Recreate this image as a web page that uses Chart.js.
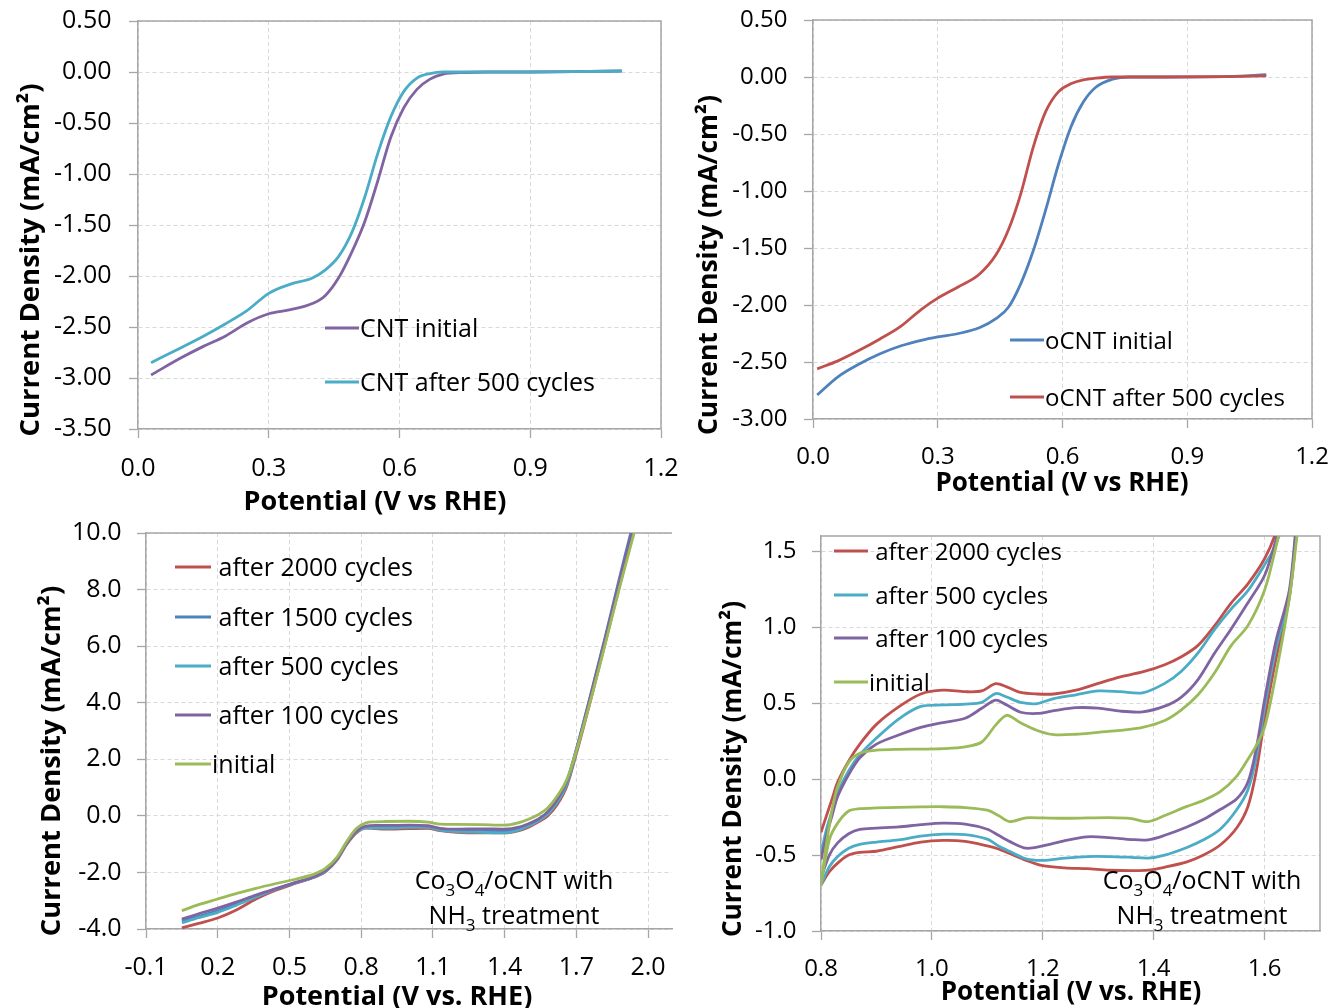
<!DOCTYPE html>
<html>
<head>
<meta charset="utf-8">
<title>Current density vs potential</title>
<script src="https://cdn.jsdelivr.net/npm/chart.js@4.4.1/dist/chart.umd.min.js"></script>
<style>
  body { margin: 0; background: #fff; }
  #wrap { position: relative; width: 1331px; height: 1008px; overflow: hidden; background: #fff; }
  #wrap canvas { position: absolute; left: 0; top: 0; }
</style>
</head>
<body>
<div id="wrap">
  <canvas id="cntChart" width="1331" height="1008"></canvas>
  <canvas id="ocntChart" width="1331" height="1008"></canvas>
  <canvas id="lsvChart" width="1331" height="1008"></canvas>
  <canvas id="cvChart" width="1331" height="1008"></canvas>
</div>
<script>
// ---- CNT, before / after 500 cycles ----
const cntPotential = [0.03, 0.1, 0.15, 0.2, 0.25, 0.3, 0.35, 0.4, 0.43, 0.46, 0.49, 0.52, 0.55, 0.58, 0.61, 0.64, 0.67, 0.7, 0.75, 0.8, 0.9, 1.0, 1.11];
const cntInitial   = [-2.97, -2.80, -2.69, -2.59, -2.46, -2.37, -2.33, -2.27, -2.19, -2.02, -1.77, -1.47, -1.07, -0.64, -0.35, -0.17, -0.07, -0.02, -0.005, 0, 0, 0.003, 0.01];
const cntAfter500  = [-2.85, -2.70, -2.59, -2.47, -2.34, -2.17, -2.08, -2.02, -1.94, -1.81, -1.58, -1.23, -0.80, -0.44, -0.19, -0.06, -0.015, 0, 0, 0, 0, 0.003, 0.01];
const cntXTicks = ['0.0', '0.3', '0.6', '0.9', '1.2'];
const cntYTicks = ['-3.50', '-3.00', '-2.50', '-2.00', '-1.50', '-1.00', '-0.50', '0.00', '0.50'];

// ---- oCNT, before / after 500 cycles ----
const ocntPotential = [0.01, 0.06, 0.11, 0.16, 0.21, 0.26, 0.3, 0.35, 0.4, 0.44, 0.47, 0.5, 0.53, 0.56, 0.59, 0.62, 0.65, 0.68, 0.72, 0.76, 0.85, 1.0, 1.09];
const ocntInitial   = [-2.79, -2.63, -2.52, -2.43, -2.36, -2.31, -2.28, -2.25, -2.20, -2.12, -2.02, -1.81, -1.52, -1.16, -0.77, -0.44, -0.22, -0.09, -0.02, 0, 0, 0.005, 0.02];
const ocntAfter500  = [-2.56, -2.49, -2.40, -2.30, -2.19, -2.04, -1.94, -1.84, -1.73, -1.56, -1.34, -1.02, -0.61, -0.30, -0.13, -0.06, -0.025, -0.01, 0, 0, 0, 0.003, 0.01];
const ocntXTicks = ['0.0', '0.3', '0.6', '0.9', '1.2'];
const ocntYTicks = ['-3.00', '-2.50', '-2.00', '-1.50', '-1.00', '-0.50', '0.00', '0.50'];

// ---- Co3O4/oCNT (NH3) polarization over cycling ----
const lsvPotential = [0.05, 0.12, 0.2, 0.28, 0.36, 0.44, 0.52, 0.6, 0.65, 0.7, 0.74, 0.78, 0.82, 0.86, 0.9, 1.0, 1.08, 1.13, 1.2, 1.3, 1.4, 1.46, 1.5, 1.54, 1.58, 1.62, 1.66, 1.7, 1.76, 1.82, 1.88, 1.94, 1.98];
const lsv2000 = [-3.96, -3.80, -3.61, -3.32, -2.94, -2.64, -2.40, -2.18, -1.98, -1.55, -1.00, -0.60, -0.43, -0.45, -0.47, -0.45, -0.44, -0.52, -0.58, -0.60, -0.60, -0.52, -0.40, -0.22, 0.0, 0.40, 1.05, 2.20, 4.10, 6.10, 8.10, 10.1, 11.4];
const lsv1500 = [-3.70, -3.55, -3.36, -3.12, -2.86, -2.60, -2.38, -2.17, -1.95, -1.50, -0.95, -0.56, -0.40, -0.40, -0.40, -0.38, -0.39, -0.47, -0.52, -0.54, -0.55, -0.45, -0.32, -0.15, 0.12, 0.55, 1.20, 2.35, 4.30, 6.30, 8.40, 10.4, 11.6];
const lsv500  = [-3.78, -3.60, -3.41, -3.15, -2.87, -2.60, -2.38, -2.17, -1.96, -1.52, -0.97, -0.58, -0.42, -0.43, -0.43, -0.41, -0.41, -0.50, -0.56, -0.58, -0.60, -0.50, -0.36, -0.18, 0.06, 0.48, 1.12, 2.28, 4.20, 6.20, 8.25, 10.2, 11.5];
const lsv100  = [-3.65, -3.46, -3.26, -3.04, -2.80, -2.58, -2.37, -2.16, -1.94, -1.50, -0.96, -0.55, -0.36, -0.34, -0.34, -0.33, -0.35, -0.44, -0.47, -0.46, -0.47, -0.40, -0.28, -0.12, 0.14, 0.58, 1.22, 2.35, 4.25, 6.25, 8.30, 10.3, 11.5];
const lsvInit = [-3.35, -3.14, -2.94, -2.74, -2.56, -2.40, -2.25, -2.07, -1.86, -1.45, -0.90, -0.45, -0.25, -0.21, -0.20, -0.19, -0.22, -0.29, -0.30, -0.31, -0.33, -0.24, -0.12, 0.04, 0.28, 0.70, 1.28, 2.30, 4.10, 6.05, 8.05, 9.95, 11.2];
const lsvXTicks = ['-0.1', '0.2', '0.5', '0.8', '1.1', '1.4', '1.7', '2.0'];
const lsvYTicks = ['-4.0', '-2.0', '0.0', '2.0', '4.0', '6.0', '8.0', '10.0'];

// ---- Co3O4/oCNT (NH3) cyclic voltammograms: forward then reverse sweep ----
const cvForward = [0.8, 0.81, 0.82, 0.83, 0.85, 0.87, 0.9, 0.94, 0.98, 1.02, 1.06, 1.09, 1.115, 1.135, 1.16, 1.19, 1.22, 1.26, 1.3, 1.34, 1.38, 1.42, 1.45, 1.48, 1.51, 1.54, 1.57, 1.6, 1.62, 1.65];
const cvReverse = [1.69, 1.66, 1.645, 1.62, 1.6, 1.585, 1.57, 1.55, 1.52, 1.49, 1.46, 1.42, 1.39, 1.36, 1.32, 1.28, 1.24, 1.2, 1.17, 1.14, 1.12, 1.1, 1.06, 1.02, 0.98, 0.94, 0.9, 0.87, 0.85, 0.83, 0.815, 0.8];
const cv2000Fwd = [-0.35, -0.24, -0.13, -0.02, 0.12, 0.23, 0.36, 0.475, 0.56, 0.585, 0.575, 0.58, 0.628, 0.607, 0.57, 0.56, 0.56, 0.585, 0.63, 0.673, 0.705, 0.753, 0.805, 0.88, 1.01, 1.16, 1.285, 1.45, 1.62, 2.0];
const cv2000Rev = [2.6, 1.7, 1.2, 0.78, 0.39, 0.05, -0.18, -0.32, -0.434, -0.50, -0.545, -0.58, -0.60, -0.603, -0.60, -0.59, -0.584, -0.57, -0.535, -0.49, -0.46, -0.44, -0.41, -0.404, -0.415, -0.445, -0.475, -0.483, -0.50, -0.553, -0.61, -0.697];
const cv500Fwd  = [-0.49, -0.33, -0.21, -0.09, 0.055, 0.16, 0.27, 0.395, 0.478, 0.488, 0.494, 0.505, 0.563, 0.54, 0.505, 0.497, 0.53, 0.555, 0.58, 0.575, 0.568, 0.63, 0.71, 0.83, 0.985, 1.12, 1.24, 1.41, 1.54, 1.9];
const cv500Rev  = [2.7, 1.75, 1.22, 0.85, 0.47, 0.14, -0.07, -0.20, -0.33, -0.40, -0.45, -0.50, -0.52, -0.515, -0.51, -0.51, -0.52, -0.535, -0.525, -0.475, -0.44, -0.395, -0.365, -0.363, -0.375, -0.40, -0.415, -0.43, -0.455, -0.51, -0.577, -0.697];
const cv100Fwd  = [-0.53, -0.37, -0.24, -0.115, 0.03, 0.14, 0.23, 0.29, 0.34, 0.372, 0.40, 0.466, 0.52, 0.487, 0.44, 0.432, 0.45, 0.47, 0.467, 0.447, 0.443, 0.48, 0.54, 0.655, 0.83, 0.99, 1.16, 1.34, 1.57, 2.0];
const cv100Rev  = [2.8, 1.8, 1.25, 0.9, 0.52, 0.2, -0.02, -0.13, -0.20, -0.265, -0.315, -0.37, -0.40, -0.398, -0.385, -0.38, -0.405, -0.44, -0.455, -0.41, -0.37, -0.33, -0.297, -0.29, -0.30, -0.315, -0.323, -0.331, -0.36, -0.42, -0.50, -0.653];
const cvInitFwd = [-0.686, -0.42, -0.20, -0.05, 0.11, 0.17, 0.19, 0.196, 0.197, 0.2, 0.212, 0.244, 0.355, 0.42, 0.37, 0.32, 0.292, 0.295, 0.308, 0.32, 0.34, 0.385, 0.455, 0.555, 0.70, 0.88, 1.01, 1.243, 1.52, 2.0];
const cvInitRev = [2.6, 1.65, 1.2, 0.68, 0.34, 0.22, 0.13, 0.02, -0.083, -0.14, -0.18, -0.24, -0.28, -0.26, -0.254, -0.256, -0.258, -0.256, -0.255, -0.28, -0.24, -0.205, -0.188, -0.182, -0.183, -0.186, -0.19, -0.195, -0.21, -0.29, -0.40, -0.697];
const cvXTicks = ['0.8', '1.0', '1.2', '1.4', '1.6'];
const cvYTicks = ['-1.0', '-0.5', '0.0', '0.5', '1.0', '1.5'];

const PAGE_W = 1331, PAGE_H = 1008;
const FONT = '"Open Sans", "Noto Sans", sans-serif';
const AXIS_GRAY = '#a6a6a6';
const GRID_GRAY = '#d9d9d9';
const RED = '#c0504d', BLUE = '#4f81bd', GREEN = '#9bbb59', PURPLE = '#8064a2', AQUA = '#4bacc6';

function pts(xs, ys) {
  return xs.map((x, i) => ({x, y: ys[i]}));
}

// the axis boxes fill the space from the plot edge to the canvas edge,
// so tick labels are never clipped by the scale's label area
function axis(labels, min, max, size, pad, boxSize, horizontal) {
  return {
    type: 'linear',
    min, max,
    afterBuildTicks: s => { s.ticks = labels.map(t => ({value: Number(t)})); },
    afterFit: s => {
      if (horizontal) s.height = boxSize; else s.width = boxSize;
      s.paddingLeft = s.paddingRight = s.paddingTop = s.paddingBottom = 0;
    },
    ticks: {
      autoSkip: false, maxRotation: 0, padding: pad, color: '#000',
      font: {family: FONT, size},
      callback: (v, i) => labels[i]
    },
    grid: {color: GRID_GRAY, lineWidth: 1, tickLength: 9, tickColor: AXIS_GRAY, tickWidth: 1.3},
    border: {color: AXIS_GRAY, width: 1.5, dash: [4, 3]}
  };
}

// text with "_3" style subscripts, centred on x
function richText(ctx, text, x, y, size) {
  const parts = text.split(/(_\d)/).filter(Boolean)
    .map(p => p[0] === '_' ? {t: p.slice(1), sub: true} : {t: p, sub: false});
  const subSize = Math.round(size * 0.68);
  let w = 0;
  parts.forEach(p => {
    ctx.font = (p.sub ? subSize : size) + 'px ' + FONT;
    p.w = ctx.measureText(p.t).width;
    w += p.w;
  });
  let cx = x - w / 2;
  parts.forEach(p => {
    ctx.font = (p.sub ? subSize : size) + 'px ' + FONT;
    ctx.fillText(p.t, cx, p.sub ? y + size * 0.36 : y);
    cx += p.w;
  });
}

// plot frame, in-plot legend, axis titles and notes
function decor(spec) {
  return {
    id: 'decor',
    beforeDatasetsDraw(chart) {
      const {ctx, chartArea: a} = chart;
      ctx.save();
      ctx.strokeStyle = AXIS_GRAY;
      ctx.lineWidth = 1.5;
      ctx.beginPath();
      ctx.moveTo(a.left, a.top);
      ctx.lineTo(a.right, a.top);
      if (spec.rightEdge !== false) ctx.lineTo(a.right, a.bottom);
      ctx.stroke();
      ctx.restore();
    },
    afterDraw(chart) {
      const ctx = chart.ctx;
      const lg = spec.legend;
      ctx.save();
      ctx.textAlign = 'left';
      ctx.textBaseline = 'middle';
      chart.data.datasets.forEach((ds, i) => {
        const y = lg.ys[i];
        ctx.strokeStyle = ds.borderColor;
        ctx.lineWidth = 3;
        ctx.lineCap = 'butt';
        ctx.beginPath();
        ctx.moveTo(lg.x, y);
        ctx.lineTo(lg.x + lg.len, y);
        ctx.stroke();
        ctx.fillStyle = '#000';
        ctx.font = lg.size + 'px ' + FONT;
        ctx.fillText(ds.label, lg.x + lg.len + 1, y + 2);
      });

      ctx.fillStyle = '#000';
      ctx.textAlign = 'center';
      const xt = spec.xTitle, yt = spec.yTitle;
      ctx.font = 'bold ' + xt.size + 'px ' + FONT;
      ctx.fillText(xt.text, xt.x, xt.y);
      ctx.save();
      ctx.translate(yt.x, yt.y);
      ctx.rotate(-Math.PI / 2);
      ctx.font = 'bold ' + yt.size + 'px ' + FONT;
      ctx.fillText(yt.text, 0, 0);
      ctx.restore();

      if (spec.note) {
        ctx.textAlign = 'left';
        spec.note.lines.forEach((line, i) => richText(ctx, line, spec.note.x, spec.note.ys[i], spec.note.size));
      }
      ctx.restore();
    }
  };
}

function drawPanel(id, area, sets, xAxis, yAxis, spec, curve) {
  const n = sets.length;
  sets.forEach((d, i) => Object.assign(d, {
    order: n - i, borderWidth: 2.8, pointRadius: 0, fill: false, backgroundColor: d.borderColor
  }, curve));
  return new Chart(document.getElementById(id), {
    type: 'line',
    data: {datasets: sets},
    options: {
      responsive: false,
      animation: false,
      events: [],
      layout: {
        autoPadding: false,
        padding: {left: 0, top: area.top, right: PAGE_W - area.right, bottom: 0}
      },
      plugins: {legend: {display: false}, tooltip: {enabled: false}},
      scales: {x: xAxis, y: yAxis}
    },
    plugins: [decor(spec)]
  });
}

const smooth = {cubicInterpolationMode: 'monotone'};
const yLabel = 'Current Density (mA/cm²)';

const cntArea = {left: 138, top: 21, right: 661, bottom: 429};
drawPanel('cntChart', cntArea,
  [
    {label: 'CNT initial', borderColor: PURPLE, data: pts(cntPotential, cntInitial)},
    {label: 'CNT after 500 cycles', borderColor: AQUA, data: pts(cntPotential, cntAfter500)}
  ],
  axis(cntXTicks, 0, 1.2, 25, 16, PAGE_H - cntArea.bottom, true),
  axis(cntYTicks, -3.5, 0.5, 25, 17.5, cntArea.left, false),
  {
    legend: {x: 325, len: 34, ys: [328, 382], size: 25},
    xTitle: {text: 'Potential (V vs RHE)', x: 375, y: 502, size: 27},
    yTitle: {text: yLabel, x: 31, y: 260, size: 27.5}
  }, smooth);

const ocntArea = {left: 813, top: 20, right: 1312, bottom: 419};
drawPanel('ocntChart', ocntArea,
  [
    {label: 'oCNT initial', borderColor: BLUE, data: pts(ocntPotential, ocntInitial)},
    {label: 'oCNT after 500 cycles', borderColor: RED, data: pts(ocntPotential, ocntAfter500)}
  ],
  axis(ocntXTicks, 0, 1.2, 24, 15, PAGE_H - ocntArea.bottom, true),
  axis(ocntYTicks, -3.0, 0.5, 24, 16.5, ocntArea.left, false),
  {
    legend: {x: 1010, len: 34, ys: [340, 397], size: 24},
    xTitle: {text: 'Potential (V vs RHE)', x: 1062, y: 484, size: 26},
    yTitle: {text: yLabel, x: 709, y: 265, size: 26.5}
  }, smooth);

const lsvArea = {left: 146, top: 533, right: 672, bottom: 929};
drawPanel('lsvChart', lsvArea,
  [
    {label: ' after 2000 cycles', borderColor: RED, data: pts(lsvPotential, lsv2000)},
    {label: ' after 1500 cycles', borderColor: BLUE, data: pts(lsvPotential, lsv1500)},
    {label: ' after 500 cycles', borderColor: AQUA, data: pts(lsvPotential, lsv500)},
    {label: ' after 100 cycles', borderColor: PURPLE, data: pts(lsvPotential, lsv100)},
    {label: 'initial', borderColor: GREEN, data: pts(lsvPotential, lsvInit)}
  ],
  axis(lsvXTicks, -0.1, 2.1, 25, 15, PAGE_H - lsvArea.bottom, true),
  axis(lsvYTicks, -4, 10, 25, 15.5, lsvArea.left, false),
  {
    rightEdge: false,
    legend: {x: 175, len: 36, ys: [567, 617, 666, 715, 764], size: 25},
    xTitle: {text: 'Potential (V vs. RHE)', x: 397, y: 997, size: 27},
    yTitle: {text: yLabel, x: 52, y: 761, size: 27.3}
  , note: {lines: ['Co_3O_4/oCNT with', 'NH_3 treatment'], x: 514, ys: [882, 917], size: 25}
  }, smooth);

const cvArea = {left: 821, top: 536, right: 1320, bottom: 931};
drawPanel('cvChart', cvArea,
  [
    {label: ' after 2000 cycles', borderColor: RED, data: pts(cvForward, cv2000Fwd).concat(pts(cvReverse, cv2000Rev))},
    {label: ' after 500 cycles', borderColor: AQUA, data: pts(cvForward, cv500Fwd).concat(pts(cvReverse, cv500Rev))},
    {label: ' after 100 cycles', borderColor: PURPLE, data: pts(cvForward, cv100Fwd).concat(pts(cvReverse, cv100Rev))},
    {label: 'initial', borderColor: GREEN, data: pts(cvForward, cvInitFwd).concat(pts(cvReverse, cvInitRev))}
  ],
  axis(cvXTicks, 0.8, 1.7, 24, 15, PAGE_H - cvArea.bottom, true),
  axis(cvYTicks, -1.0, 1.6, 24, 15.5, cvArea.left, false),
  {
    legend: {x: 834, len: 34, ys: [551, 595, 638, 682], size: 24},
    xTitle: {text: 'Potential (V vs. RHE)', x: 1071, y: 993, size: 26},
    yTitle: {text: yLabel, x: 734, y: 769, size: 26.2},
    note: {lines: ['Co_3O_4/oCNT with', 'NH_3 treatment'], x: 1202, ys: [882, 917], size: 25}
  }, {tension: 0.3});
</script>
</body>
</html>
